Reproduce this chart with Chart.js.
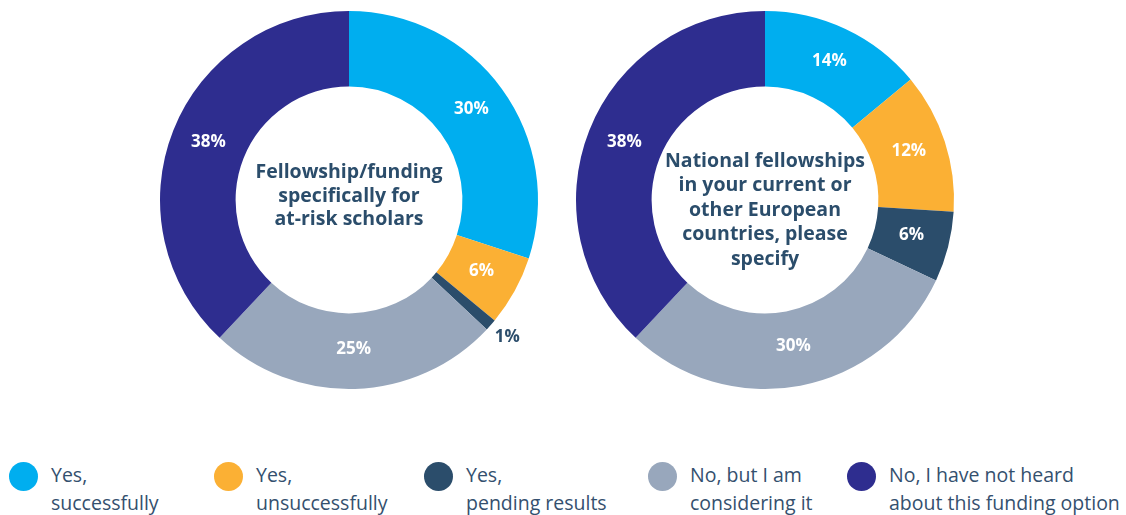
<!DOCTYPE html>
<html lang="en">
<head>
    <meta charset="UTF-8">
    <title>Funding options</title>
    <script src="https://cdn.jsdelivr.net/npm/chart.js"></script>
    <style>
        body {
            margin: 0;
            background: #ffffff;
            width: 1126px;
            height: 515px;
            overflow: hidden;
            position: relative;
            font-family: 'Open Sans', sans-serif;
        }
        .chart-box {
            position: absolute;
            top: 0;
            width: 420px;
            height: 400px;
        }
        #box1 { left: 139px; }
        #box2 { left: 555px; }
        .legend-item {
            position: absolute;
            top: 461px;
            display: flex;
            align-items: flex-start;
        }
        .dot {
            width: 29px;
            height: 29px;
            border-radius: 50%;
            margin-top: 1px;
            flex: none;
        }
        .legend-text {
            margin-left: 13px;
            color: #34506e;
            font-size: 19.5px;
            line-height: 28px;
            white-space: nowrap;
        }
    </style>
</head>
<body>
    <div class="chart-box" id="box1"><canvas id="chart1"></canvas></div>
    <div class="chart-box" id="box2"><canvas id="chart2"></canvas></div>
    <div id="legend"></div>
    <script>
        const categories = [
            ["Yes,", "successfully"],
            ["Yes,", "unsuccessfully"],
            ["Yes,", "pending results"],
            ["No, but I am", "considering it"],
            ["No, I have not heard", "about this funding option"]
        ];
        const atRiskValues = [30, 6, 1, 25, 38];
        const nationalValues = [14, 12, 6, 30, 38];
        const atRiskTitle = ["Fellowship/funding", "specifically for", "at-risk scholars"];
        const nationalTitle = ["National fellowships", "in your current or", "other European", "countries, please", "specify"];

        const colors = ["#00aeef", "#fbb034", "#2b4d6b", "#98a7bc", "#2e2d8f"];
        const textColor = "#2b4d6b";
        const legendLeft = [9, 214, 424, 648, 847];

        // legend
        const legend = document.getElementById("legend");
        categories.forEach((lines, i) => {
            const item = document.createElement("div");
            item.className = "legend-item";
            item.style.left = legendLeft[i] + "px";
            item.innerHTML = `<span class="dot" style="background:${colors[i]}"></span>` +
                `<span class="legend-text">${lines.join("<br>")}</span>`;
            legend.appendChild(item);
        });

        // percent labels + centre title
        const labelPlugin = {
            id: "labels",
            afterDatasetsDraw(chart, args, opts) {
                const ctx = chart.ctx;
                const meta = chart.getDatasetMeta(0);
                const values = chart.data.datasets[0].data;
                ctx.save();
                ctx.textAlign = "center";
                ctx.textBaseline = "middle";
                meta.data.forEach((arc, i) => {
                    const p = arc.getProps(["x", "y", "startAngle", "endAngle", "innerRadius", "outerRadius"], true);
                    const mid = (p.startAngle + p.endAngle) / 2;
                    const small = values[i] < 3;
                    const r = small ? p.outerRadius + 22 : (p.innerRadius + p.outerRadius) / 2;
                    ctx.font = "bold 17px 'Open Sans', sans-serif";
                    ctx.fillStyle = small ? textColor : "#ffffff";
                    ctx.fillText(values[i] + "%", p.x + r * Math.cos(mid), p.y + r * Math.sin(mid) - 2);
                });
                const cx = meta.data[0].x, cy = meta.data[0].y + opts.shift;
                const lines = opts.title;
                ctx.font = "bold 19.5px 'Open Sans', sans-serif";
                ctx.fillStyle = textColor;
                lines.forEach((t, i) => {
                    ctx.fillText(t, cx, cy + (i - (lines.length - 1) / 2) * opts.lineHeight);
                });
                ctx.restore();
            }
        };

        function makeDoughnut(id, values, title, shift, lineHeight) {
            new Chart(document.getElementById(id), {
                type: "doughnut",
                data: {
                    labels: categories.map(c => c.join(" ")),
                    datasets: [{
                        data: values,
                        backgroundColor: colors,
                        borderWidth: 0
                    }]
                },
                options: {
                    responsive: true,
                    maintainAspectRatio: false,
                    animation: false,
                    cutout: "60%",
                    layout: { padding: { top: 11, bottom: 11 } },
                    plugins: {
                        legend: { display: false },
                        tooltip: { enabled: false },
                        labels: { title: title, shift: shift, lineHeight: lineHeight }
                    }
                },
                plugins: [labelPlugin]
            });
        }

        makeDoughnut("chart1", atRiskValues, atRiskTitle, -4, 23.5);
        makeDoughnut("chart2", nationalValues, nationalTitle, 10, 24.5);
    </script>
</body>
</html>
